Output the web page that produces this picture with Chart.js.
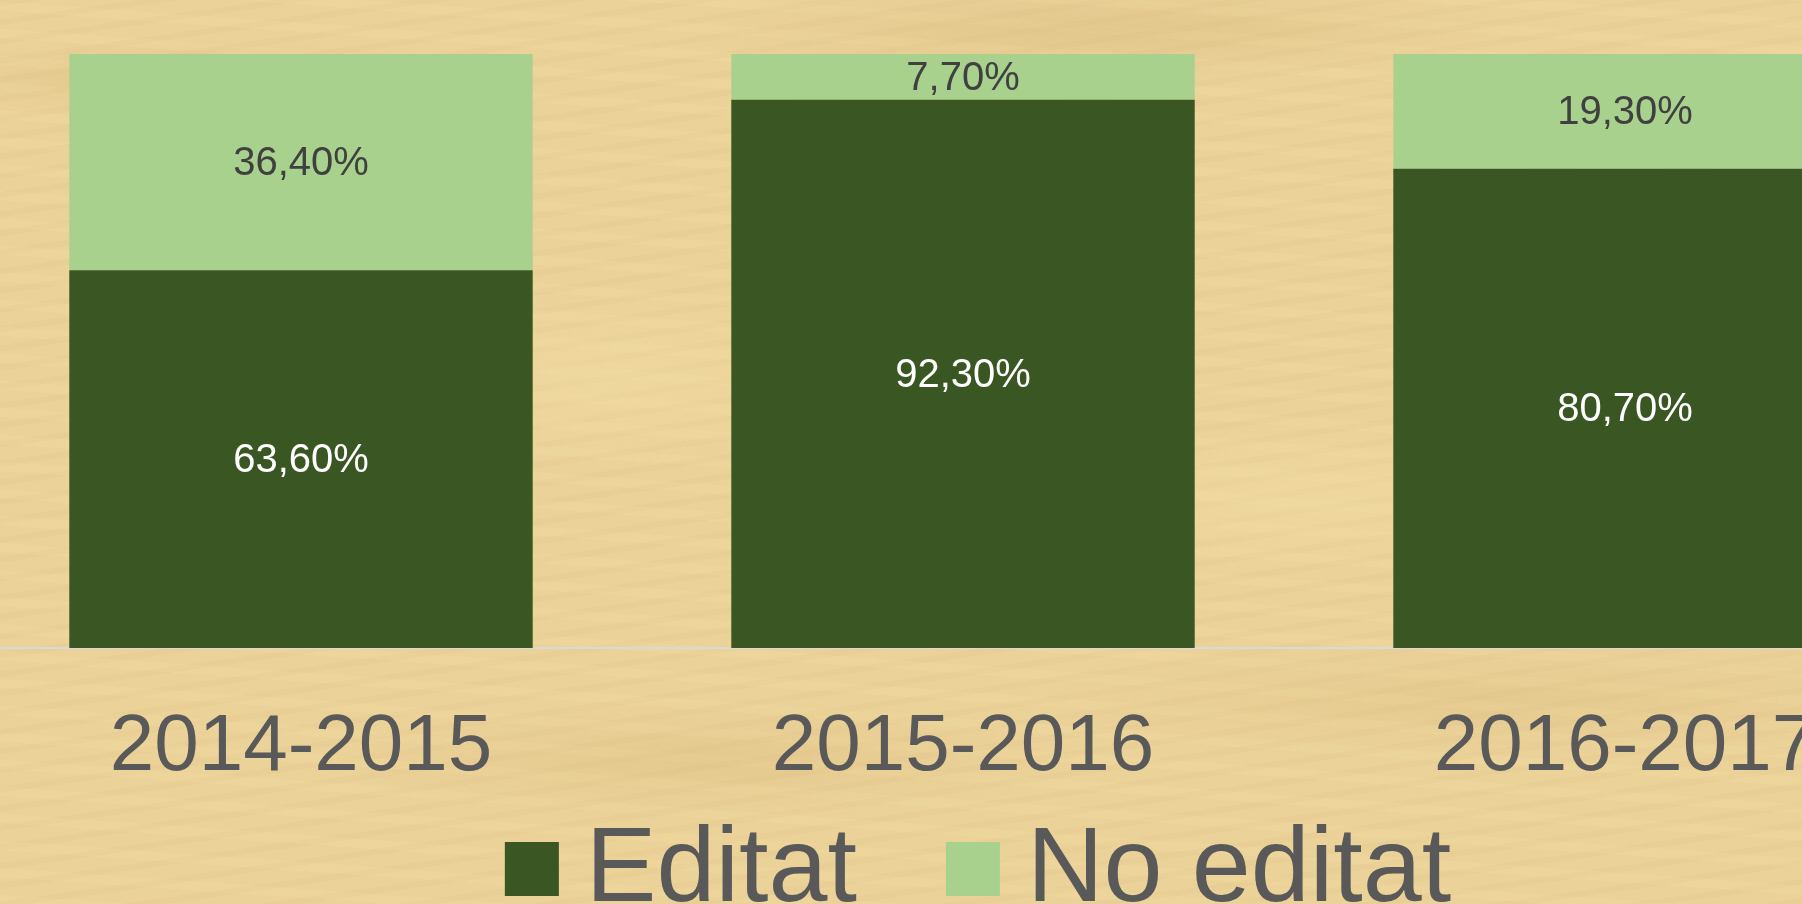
<!DOCTYPE html>
<html>
<head>
<meta charset="utf-8">
<script src="https://cdn.jsdelivr.net/npm/chart.js@4.4.0/dist/chart.umd.min.js"></script>
<style>
  html, body {
    margin: 0;
    padding: 0;
    width: 1802px;
    height: 904px;
    overflow: hidden;
  }
  body {
    background-color: #ebd299;
    background-image:
      radial-gradient(ellipse 300px 40px at 200px 80px, rgba(200,165,100,0.25), transparent),
      radial-gradient(ellipse 420px 50px at 1100px 30px, rgba(200,165,100,0.25), transparent),
      radial-gradient(ellipse 380px 60px at 700px 760px, rgba(205,170,105,0.22), transparent),
      radial-gradient(ellipse 500px 60px at 1500px 700px, rgba(205,170,105,0.2), transparent),
      radial-gradient(ellipse 300px 80px at 1300px 500px, rgba(245,225,165,0.35), transparent),
      radial-gradient(ellipse 260px 90px at 600px 380px, rgba(245,225,165,0.35), transparent),
      repeating-linear-gradient(172deg, rgba(190,155,95,0.05) 0 6px, transparent 6px 19px),
      repeating-linear-gradient(4deg, rgba(250,232,175,0.1) 0 9px, transparent 9px 27px);
  }
  #wrap {
    position: absolute;
    left: -30px;
    top: 0;
    width: 1986px;
    height: 904px;
  }
</style>
</head>
<body>
<div id="wrap"><canvas id="chart" width="1986" height="904"></canvas></div>
<script>
const years = ["2014-2015", "2015-2016", "2016-2017"];
const editat = [63.6, 92.3, 80.7];
const noEditat = [36.4, 7.7, 19.3];
const seriesNames = ["Editat", "No editat"];
const seriesColors = ["#3a5622", "#a8d18d"];
const labelColors = ["#ffffff", "#404040"];

const fontFamily = "'Liberation Sans', Arial, sans-serif";

const fmt = (v) => v.toFixed(2).replace(".", ",") + "%";

// values written in the middle of every segment
const segmentLabels = {
  id: "segmentLabels",
  afterDatasetsDraw(chart) {
    const ctx = chart.ctx;
    ctx.save();
    ctx.font = "40px " + fontFamily;
    ctx.textAlign = "center";
    ctx.textBaseline = "middle";
    chart.data.datasets.forEach((ds, i) => {
      const meta = chart.getDatasetMeta(i);
      meta.data.forEach((bar, j) => {
        const p = bar.getProps(["x", "y", "base"], true);
        ctx.fillStyle = labelColors[i];
        ctx.fillText(fmt(ds.data[j]), p.x, (p.y + p.base) / 2 + 2);
      });
    });
    ctx.restore();
  },
};

// legend under the axis labels
const bottomLegend = {
  id: "bottomLegend",
  afterDraw(chart) {
    const ctx = chart.ctx;
    const box = 54;
    const gap = 27;
    const spacing = 89;
    ctx.save();
    ctx.font = "106px " + fontFamily;
    ctx.textBaseline = "alphabetic";
    ctx.textAlign = "left";
    const items = chart.data.datasets.map((ds) => ({
      text: ds.label,
      color: ds.backgroundColor,
      w: ctx.measureText(ds.label).width,
    }));
    let total = 0;
    items.forEach((it, i) => {
      total += box + gap + it.w + (i < items.length - 1 ? spacing : 0);
    });
    let x = (chart.chartArea.left + chart.chartArea.right) / 2 - total / 2 + 15;
    const boxTop = 842;
    const baseline = 901;
    items.forEach((it) => {
      ctx.fillStyle = it.color;
      ctx.fillRect(x, boxTop, box, box);
      x += box + gap;
      ctx.fillStyle = "#595959";
      ctx.fillText(it.text, x, baseline);
      x += it.w + spacing;
    });
    ctx.restore();
  },
};

new Chart(document.getElementById("chart"), {
  type: "bar",
  data: {
    labels: years,
    datasets: [
      {
        label: seriesNames[0],
        data: editat,
        backgroundColor: seriesColors[0],
      },
      {
        label: seriesNames[1],
        data: noEditat,
        backgroundColor: seriesColors[1],
      },
    ],
  },
  options: {
    responsive: false,
    animation: false,
    devicePixelRatio: 1,
    layout: {
      padding: { top: 54, bottom: 64, left: 0, right: 0 },
    },
    datasets: {
      bar: {
        barPercentage: 0.7,
        categoryPercentage: 1.0,
      },
    },
    scales: {
      x: {
        stacked: true,
        grid: { display: false },
        border: { display: true, color: "#d9d9d9", width: 2 },
        ticks: {
          color: "#595959",
          padding: 44,
          font: { family: fontFamily, size: 80 },
          maxRotation: 0,
        },
      },
      y: {
        stacked: true,
        display: false,
        min: 0,
        max: 100,
      },
    },
    plugins: {
      legend: { display: false },
      tooltip: { enabled: false },
    },
  },
  plugins: [segmentLabels, bottomLegend],
});
</script>
</body>
</html>
